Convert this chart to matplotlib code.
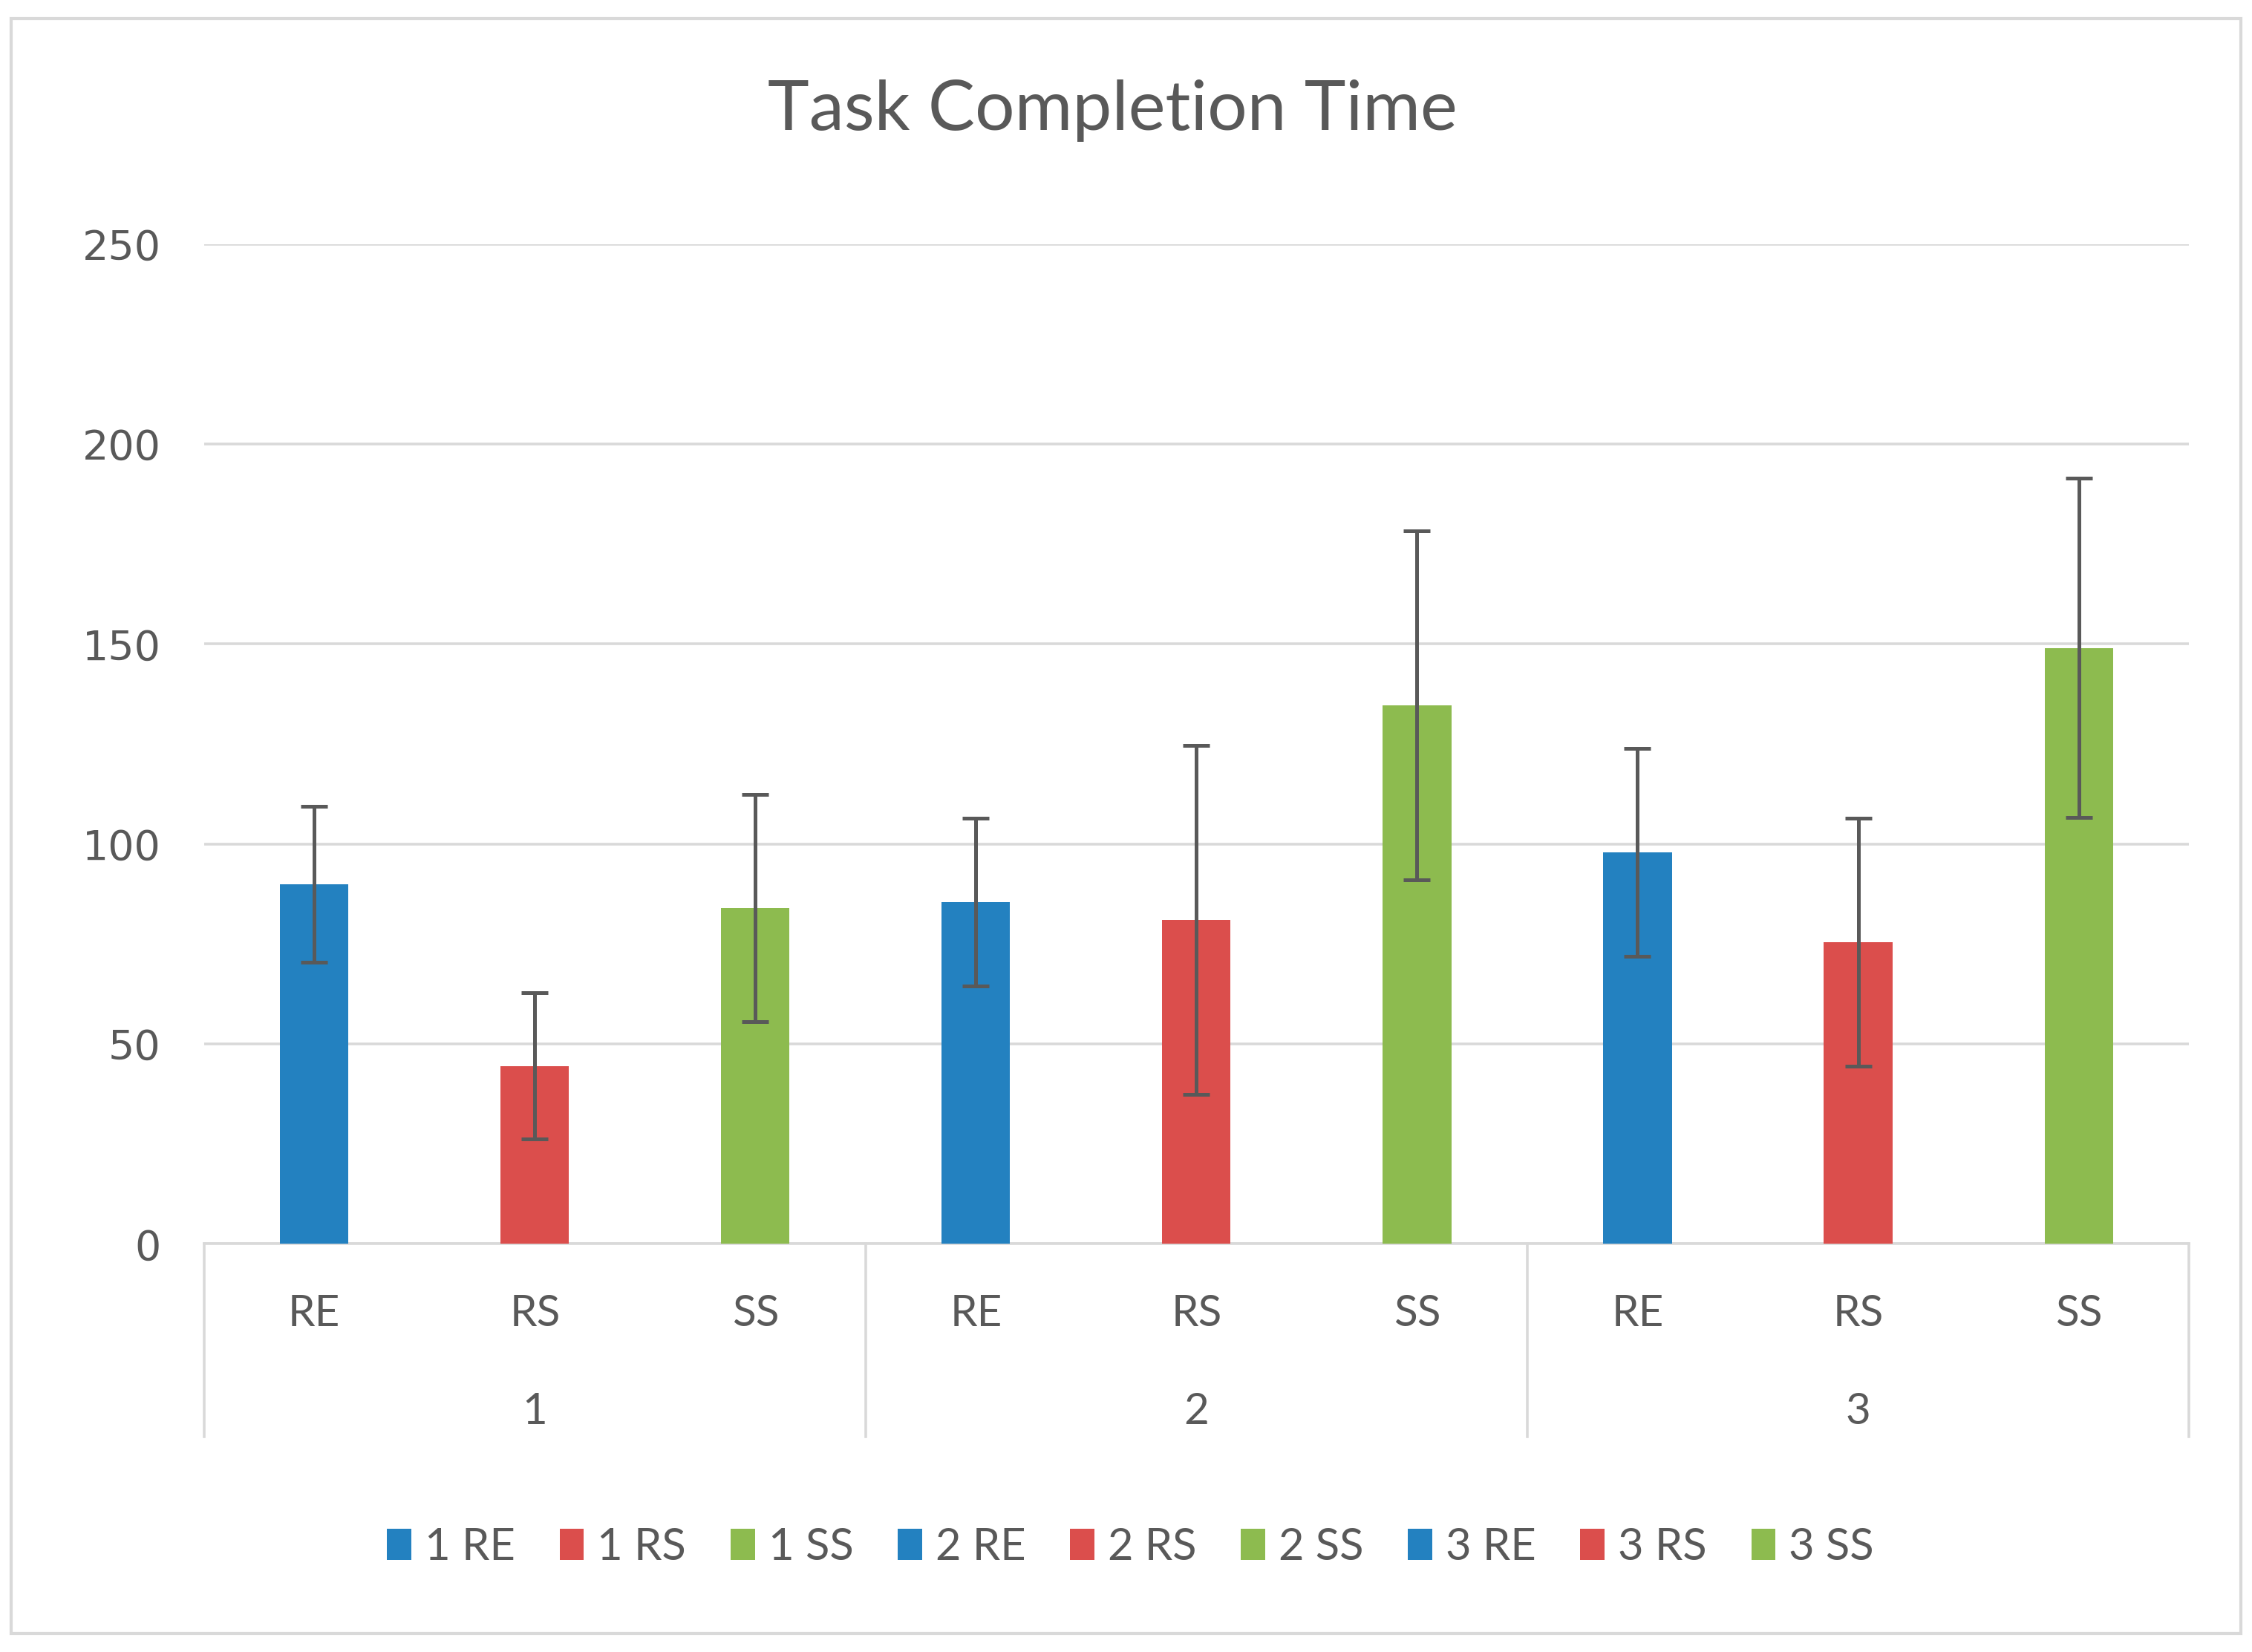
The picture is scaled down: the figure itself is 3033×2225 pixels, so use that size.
import matplotlib
matplotlib.use("Agg")
import matplotlib.pyplot as plt
from matplotlib.patches import Rectangle
import numpy as np

# data
groups = ["1", "2", "3"]
conditions = ["RE", "RS", "SS"]
means = [90, 44.5, 84, 85.5, 81, 134.7, 98, 75.5, 149]
errors = [19.5, 18.3, 28.4, 21, 43.6, 43.6, 26, 31, 42.4]
series_labels = ["1 RE", "1 RS", "1 SS", "2 RE", "2 RS", "2 SS", "3 RE", "3 RS", "3 SS"]

colors = {"RE": "#2381C0", "RS": "#DB4E4C", "SS": "#8DBB4F"}
text_col = "#595959"
grid_col = "#D9D9D9"
cat_font = "Lato"

fig = plt.figure(figsize=(30.33, 22.25), dpi=100)
ax = fig.add_axes([0.0906, 0.2470, 0.972 - 0.0906, 0.8522 - 0.2470])

x = np.arange(len(means))
for i in range(len(means)):
    cond = conditions[i % 3]
    ax.bar(x[i], means[i], 0.31, color=colors[cond], label=series_labels[i], zorder=3)
    ax.errorbar(x[i], means[i], yerr=errors[i], fmt="none", ecolor=text_col,
                elinewidth=3.6, capsize=13, capthick=3.6, zorder=4)

ax.set_xlim(-0.5, len(means) - 0.5)
ax.set_ylim(0, 250)
ax.set_yticks([0, 50, 100, 150, 200, 250])
ax.yaxis.grid(True, color=grid_col, linewidth=2.6, zorder=0)
ax.set_axisbelow(True)
for s in ["top", "right", "left"]:
    ax.spines[s].set_visible(False)
ax.spines["bottom"].set_color(grid_col)
ax.spines["bottom"].set_linewidth(2.6)
ax.tick_params(axis="both", length=0)
ax.tick_params(axis="y", labelsize=40, labelcolor=text_col, pad=42)
for lab in ax.get_yticklabels():
    lab.set_fontfamily("DejaVu Sans")
ax.set_xticks([])

# two level category axis
trans = ax.get_xaxis_transform()
for i in range(len(means)):
    ax.text(x[i], -0.07, conditions[i % 3], transform=trans, ha="center", va="center",
            fontsize=42, color=text_col, family=cat_font)
for g, name in enumerate(groups):
    ax.text(g * 3 + 1, -0.168, name, transform=trans, ha="center", va="center",
            fontsize=42, color=text_col, family=cat_font)
for b in [-0.5, 2.5, 5.5, 8.5]:
    ax.plot([b, b], [0, -0.1925], transform=trans, color=grid_col, linewidth=2.6,
            clip_on=False)

fig.text(0.494, 0.933, "Task Completion Time", fontsize=68, color=text_col,
         family=cat_font, ha="center", va="center")

leg = fig.legend(loc="center", bbox_to_anchor=(0.502, 0.0635), ncol=9, frameon=False,
                 prop={"family": cat_font, "size": 43}, labelcolor=text_col,
                 handlelength=0.55, handleheight=0.7, handletextpad=0.3,
                 columnspacing=1.0)

fig.patches.append(Rectangle((0.0051, 0.0113), 0.9898, 0.9774, transform=fig.transFigure,
                             fill=False, edgecolor=grid_col, linewidth=3))

fig.savefig("out.png", dpi=100, facecolor="white")
